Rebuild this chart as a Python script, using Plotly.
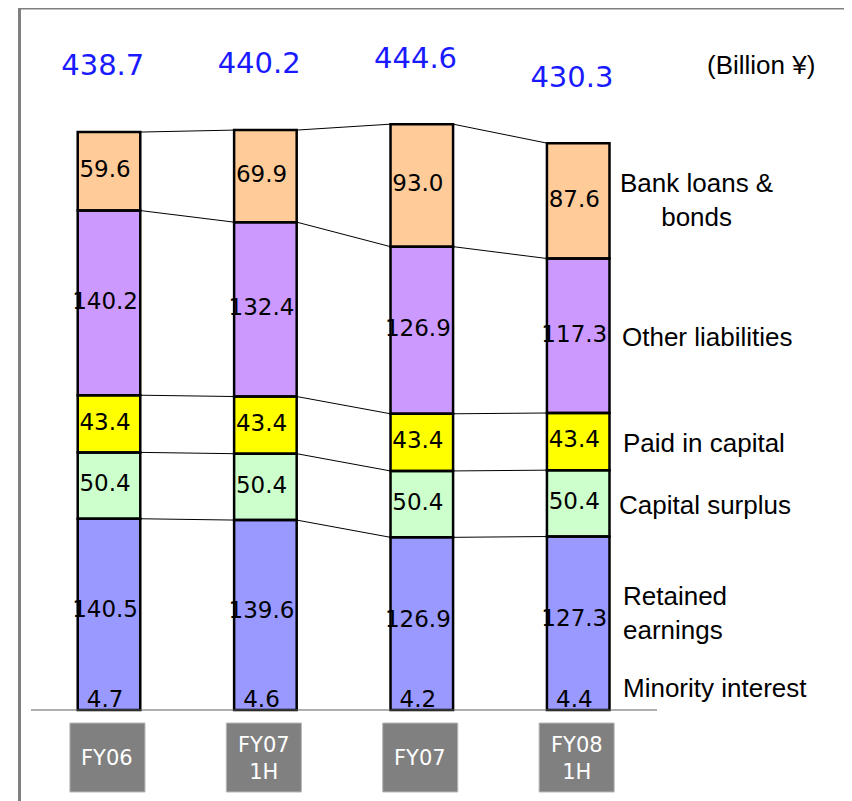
import plotly.graph_objects as go

# ---------------- data ----------------
categories = ["FY06", "FY07<br>1H", "FY07", "FY08<br>1H"]
totals = [438.7, 440.2, 444.6, 430.3]
minority_interest = [4.7, 4.6, 4.2, 4.4]
retained_earnings = [140.5, 139.6, 126.9, 127.3]
capital_surplus = [50.4, 50.4, 50.4, 50.4]
paid_in_capital = [43.4, 43.4, 43.4, 43.4]
other_liabilities = [140.2, 132.4, 126.9, 117.3]
bank_loans_bonds = [59.6, 69.9, 93.0, 87.6]

# ---------------- style ----------------
OFF = 8                       # page body margin
W, H = 852 - OFF, 801 - OFF
BAR_W = 0.4
X_RANGE = [-0.6458, 4.7506]
Y_RANGE = [-69.1, 533.0]
PX_PER_UNIT = 1.317
NUM_FONT = "DejaVu Sans"
LBL_FONT = "Liberation Sans, Arial"


def px(x):
    return (x - OFF) / W


def py(y):
    return 1 - (y - OFF) / H


xs = list(range(len(categories)))

series = [
    ("Minority interest", minority_interest, "#9999FF"),
    ("Retained earnings", retained_earnings, "#9999FF"),
    ("Capital surplus", capital_surplus, "#CCFFCC"),
    ("Paid in capital", paid_in_capital, "#FFFF00"),
    ("Other liabilities", other_liabilities, "#CC99FF"),
    ("Bank loans & bonds", bank_loans_bonds, "#FFCC99"),
]

fig = go.Figure()
for name, vals, col in series:
    fig.add_trace(go.Bar(
        x=xs, y=vals, name=name, width=BAR_W,
        marker=dict(color=col, line=dict(width=0)),
        textposition="none", hoverinfo="skip",
    ))

# cumulative boundaries
cums = []
run = [0.0] * len(xs)
for name, vals, col in series:
    run = [a + b for a, b in zip(run, vals)]
    cums.append(list(run))

shapes = []

# segment labels
lab_x = [i - 0.025 for i in xs]
for k, (name, vals, col) in enumerate(series):
    if k == 0:
        continue
    base = cums[k - 1]
    mids = [b + v / 2 for b, v in zip(base, vals)]
    fig.add_trace(go.Scatter(
        x=lab_x, y=mids, mode="text",
        text=[f"{v:.1f}" for v in vals],
        textposition="middle center",
        textfont=dict(family=NUM_FONT, size=23, color="black"),
        cliponaxis=False, hoverinfo="skip",
    ))
# minority labels sitting on (and slightly cut by) the baseline
fig.add_trace(go.Scatter(
    x=lab_x, y=[8.5 / PX_PER_UNIT] * len(xs), mode="text",
    text=[f"{v:.1f}" for v in minority_interest],
    textposition="middle center",
    textfont=dict(family=NUM_FONT, size=23, color="black"),
    cliponaxis=False, hoverinfo="skip",
))
# white strip below the baseline clips the minority labels
shapes.append(dict(type="rect", xref="paper", yref="y",
                   x0=px(22), x1=1, y0=-1.0 / PX_PER_UNIT, y1=-12 / PX_PER_UNIT,
                   fillcolor="white", line=dict(width=0), layer="above"))

# outlines (minority + retained drawn as a single blue box)
levels = [[0.0] * len(xs)] + cums[1:]
for i in xs:
    for k in range(len(levels) - 1):
        shapes.append(dict(
            type="rect", xref="x", yref="y",
            x0=i - BAR_W / 2, x1=i + BAR_W / 2,
            y0=levels[k][i], y1=levels[k + 1][i],
            line=dict(color="black", width=2.5),
            fillcolor="rgba(0,0,0,0)", layer="above",
        ))

# connector lines between bars
for lev in cums[1:]:
    lx, ly = [], []
    for i in xs[:-1]:
        lx += [i + BAR_W / 2, i + 1 - BAR_W / 2, None]
        ly += [lev[i], lev[i + 1], None]
    fig.add_trace(go.Scatter(x=lx, y=ly, mode="lines",
                             line=dict(color="black", width=1),
                             hoverinfo="skip"))

# totals
TOTAL_OFFSET = 48.6
fig.add_trace(go.Scatter(
    x=[i - 0.04 for i in xs], y=[t + TOTAL_OFFSET for t in totals],
    mode="text", text=[f"{t:.1f}" for t in totals],
    textposition="middle center",
    textfont=dict(family=NUM_FONT, size=29, color="#1a1aff"),
    cliponaxis=False, hoverinfo="skip",
))

# category boxes + labels
BOX_W = 0.48
annotations = []
for i, c in zip(xs, categories):
    shapes.append(dict(
        type="rect", xref="x", yref="paper",
        x0=i - 0.01 - BOX_W / 2, x1=i - 0.01 + BOX_W / 2,
        y0=py(792), y1=py(723),
        fillcolor="#808080", line=dict(color="#b8b8b8", width=1),
        layer="above",
    ))
    annotations.append(dict(
        text=c, x=i - 0.01, y=py(758), xref="x", yref="paper",
        xanchor="center", yanchor="middle", showarrow=False, align="center",
        font=dict(family=NUM_FONT, size=21, color="white"),
    ))

# baseline
shapes.append(dict(type="line", xref="paper", yref="y",
                   x0=px(31), x1=px(657), y0=0, y1=0,
                   line=dict(color="#606060", width=1), layer="above"))
# frame
shapes.append(dict(type="line", xref="paper", yref="paper",
                   x0=px(19.5), x1=px(19.5), y0=1, y1=0,
                   line=dict(color="#808080", width=3)))
shapes.append(dict(type="line", xref="paper", yref="paper",
                   x0=px(18), x1=1, y0=py(8.6), y1=py(8.6),
                   line=dict(color="#808080", width=2)))

side = [
    dict(text="(Billion ¥)", x=px(761), y=py(65)),
    dict(text="Bank loans &<br>bonds", x=px(696), y=py(200)),
    dict(text="Other liabilities", x=px(707), y=py(337)),
    dict(text="Paid in capital", x=px(704), y=py(443)),
    dict(text="Capital surplus", x=px(705), y=py(505)),
    dict(text="Retained<br>earnings", x=px(621), y=py(613), xanchor="left", align="left"),
    dict(text="Minority interest", x=px(621), y=py(688), xanchor="left", align="left"),
]
for a in side:
    a.setdefault("xanchor", "center")
    a.update(xref="paper", yref="paper", yanchor="middle", showarrow=False,
             font=dict(family=LBL_FONT, size=26, color="black"))
annotations += side

fig.update_layout(
    width=W, height=H, barmode="stack", showlegend=False,
    margin=dict(l=0, r=0, t=0, b=0),
    paper_bgcolor="white", plot_bgcolor="white",
    xaxis=dict(range=X_RANGE, visible=False, fixedrange=True),
    yaxis=dict(range=Y_RANGE, visible=False, fixedrange=True),
    shapes=shapes, annotations=annotations,
)

fig.write_html("out.html")
